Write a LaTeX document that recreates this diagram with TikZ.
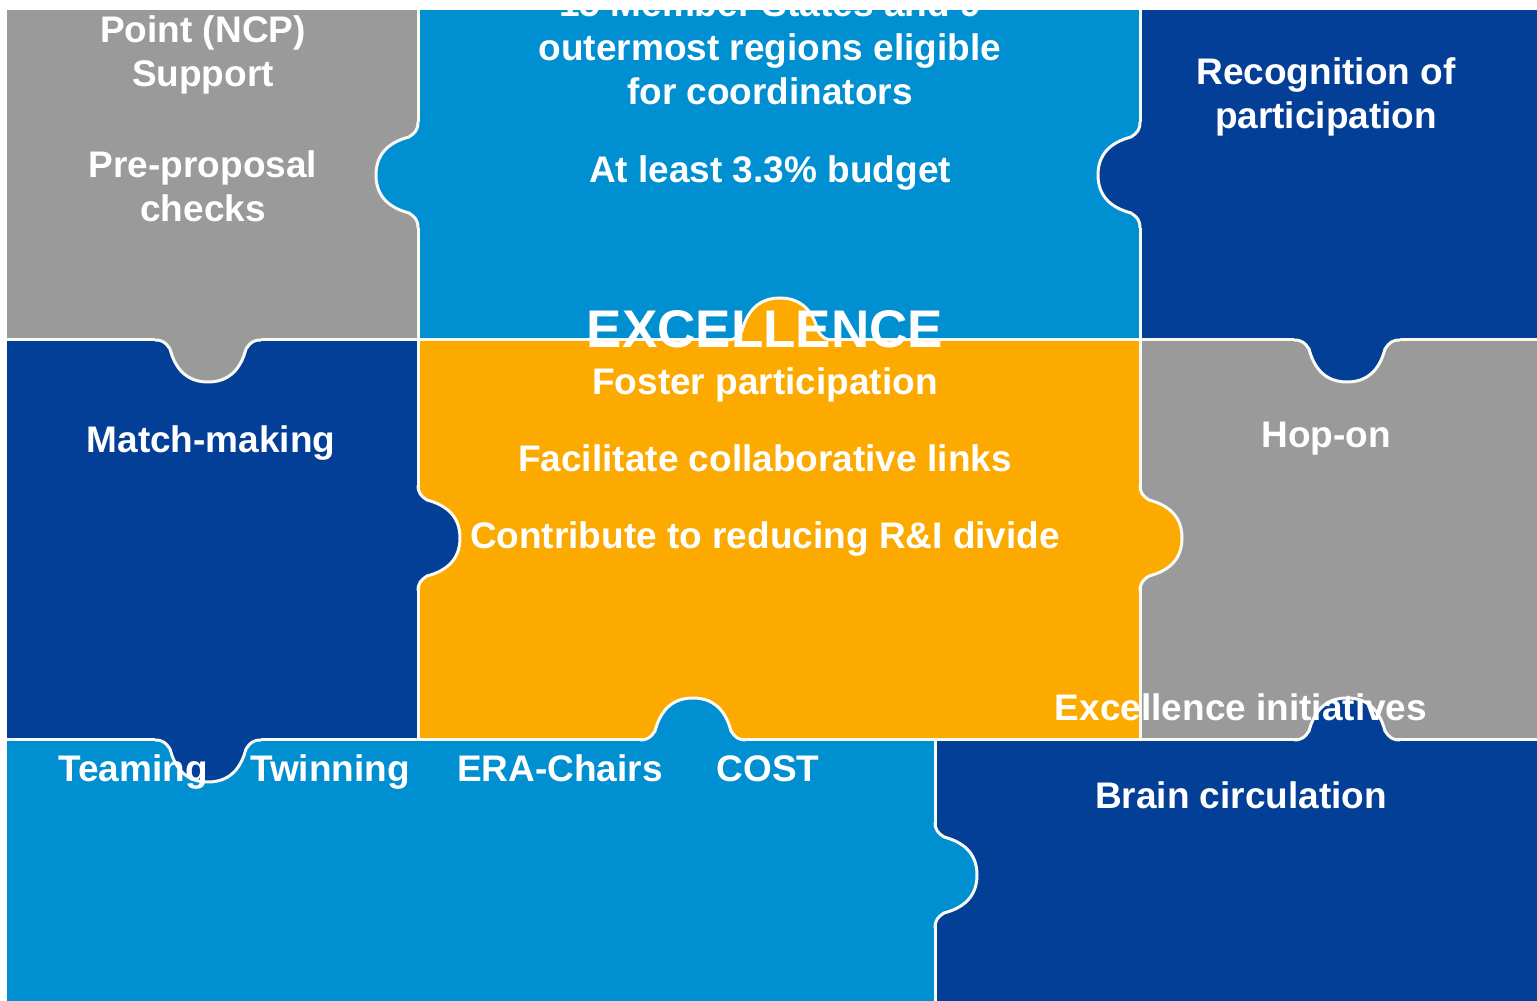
\documentclass[tikz,border=0pt]{standalone}
\usepackage{fontspec}
\setmainfont{Liberation Sans}
\definecolor{pgray}{RGB}{155,154,155}
\definecolor{plblue}{RGB}{0,143,208}
\definecolor{pdblue}{RGB}{3,62,151}
\definecolor{porange}{RGB}{252,170,0}
\definecolor{seamc}{RGB}{250,250,244}
\tikzset{
  seam/.style={draw=seamc, line width=1.5pt, line join=round},
  lbl/.style={text=white, font=\fontsize{18.5}{22}\selectfont\bfseries, anchor=base, inner sep=0pt},
  biglbl/.style={lbl, font=\fontsize{26.5}{30}\selectfont\bfseries}
}
% x, y, rotation, colour
\newcommand\puzzletab[4]{%
  \begin{scope}[shift={(#1,#2)},rotate=#3]
    \fill[#4] (-53,2) -- (-53,0) .. controls (-45,0) and (-42,-3) .. (-38,-9)
      .. controls (-33,-28) and (-22,-42) .. (0,-42)
      .. controls (22,-42) and (33,-28) .. (38,-9)
      .. controls (42,-3) and (45,0) .. (53,0) -- (53,2) -- cycle;
    \draw[seam] (-53,0) .. controls (-45,0) and (-42,-3) .. (-38,-9)
      .. controls (-33,-28) and (-22,-42) .. (0,-42)
      .. controls (22,-42) and (33,-28) .. (38,-9)
      .. controls (42,-3) and (45,0) .. (53,0);
  \end{scope}}
\begin{document}
\begin{tikzpicture}[x=0.5pt,y=0.5pt]
\useasboundingbox (0,0) rectangle (1537,1001);
\fill[white] (0,0) rectangle (1537,1001);
% pieces
\fill[pgray]   (7,661) rectangle (418,991);
\fill[plblue]  (418,661) rectangle (1140,991);
\fill[pdblue]  (1140,661) rectangle (1537,991);
\fill[pdblue]  (7,261) rectangle (418,661);
\fill[porange] (418,261) rectangle (1140,661);
\fill[pgray]   (1140,261) rectangle (1537,661);
\fill[plblue]  (7,0) rectangle (935,261);
\fill[pdblue]  (935,0) rectangle (1537,261);
% seams
\draw[seam] (7,661) -- (1537,661);
\draw[seam] (7,261) -- (1537,261);
\draw[seam] (418,261) -- (418,991);
\draw[seam] (1140,261) -- (1140,991);
\draw[seam] (935,0) -- (935,261);
% tabs
\puzzletab{208}{661}{0}{pgray}
\puzzletab{418}{826}{-90}{plblue}
\puzzletab{1140}{826}{-90}{pdblue}
\puzzletab{1347}{661}{0}{pdblue}
\puzzletab{780}{661}{180}{porange}
\puzzletab{418}{463}{90}{pdblue}
\puzzletab{1140}{463}{90}{porange}
\puzzletab{208}{261}{0}{pdblue}
\puzzletab{693}{261}{180}{plblue}
\puzzletab{1347}{261}{180}{pdblue}
\puzzletab{935}{126}{90}{plblue}
% texts
\node[lbl] (ncp1) at (203,958) {Point (NCP)};
\node[lbl] (ncp2) at (203,914) {Support};
\node[lbl] (pre1) at (203,823) {Pre-proposal};
\node[lbl] (pre2) at (203,779) {checks};
\node[lbl] (ms0) at (770,984) {15 Member States and 9};
\node[lbl] (ms1) at (770,940) {outermost regions eligible};
\node[lbl] (ms2) at (770,896) {for coordinators};
\node[lbl] (bud) at (770,818) {At least 3.3\% budget};
\node[lbl] (rec1) at (1326,916) {Recognition of};
\node[lbl] (rec2) at (1326,872) {participation};
\node[lbl] (match) at (211,548) {Match-making};
\node[biglbl] (exc) at (765,653) {EXCELLENCE};
\node[lbl] (fos) at (765,606) {Foster participation};
\node[lbl] (fac) at (765,529) {Facilitate collaborative links};
\node[lbl] (con) at (765,452) {Contribute to reducing R\&I divide};
\node[lbl] (hop) at (1326,553) {Hop-on};
\node[lbl] (exi) at (1241,280) {Excellence initiatives};
\node[lbl] (team) at (133,219) {Teaming};
\node[lbl] (twin) at (330,219) {Twinning};
\node[lbl] (era) at (560,219) {ERA-Chairs};
\node[lbl] (cost) at (768,219) {COST};
\node[lbl] (brain) at (1241,192) {Brain circulation};
\end{tikzpicture}
\end{document}
